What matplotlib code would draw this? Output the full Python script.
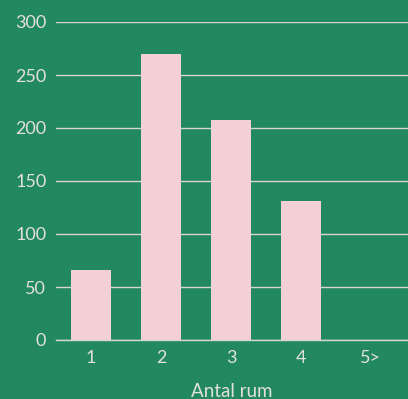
import matplotlib.pyplot as plt

rooms = ["1", "2", "3", "4", "5>"]
counts = [66, 270, 208, 131, 0]
yticks = [0, 50, 100, 150, 200, 250, 300]

bg = "#218860"
bar_color = "#f2d0d3"
text_color = "#e4e0dc"
grid_color = "#d9d6d0"

plt.rcParams["font.family"] = ["Lato", "DejaVu Sans"]

fig = plt.figure(figsize=(4.08, 3.99), dpi=100, facecolor=bg)
ax = fig.add_axes([56 / 408, 1 - 340 / 399, 1 - 56 / 408, 318 / 399])
ax.set_facecolor(bg)

x = range(len(rooms))
ax.bar(x, counts, width=0.57, color=bar_color, zorder=3)

ax.set_xlim(-0.5, 4.53)
ax.set_ylim(0, 300)
ax.set_yticks(yticks)
ax.set_xticks(list(x))
ax.set_xticklabels(rooms)
ax.yaxis.grid(True, color=grid_color, linewidth=1.0, zorder=1)
ax.set_axisbelow(True)
# baseline sits on top of the bars
ax.axhline(0, color=grid_color, linewidth=1.0, zorder=4, clip_on=False)
for s in ax.spines.values():
    s.set_visible(False)
ax.tick_params(axis="both", length=0, labelsize=13, labelcolor=text_color)
ax.tick_params(axis="y", pad=7)
ax.tick_params(axis="x", pad=7)
ax.set_xlabel("Antal rum", fontsize=13.5, color=text_color, labelpad=12.5)

fig.savefig("out.png", dpi=100, facecolor=bg)
